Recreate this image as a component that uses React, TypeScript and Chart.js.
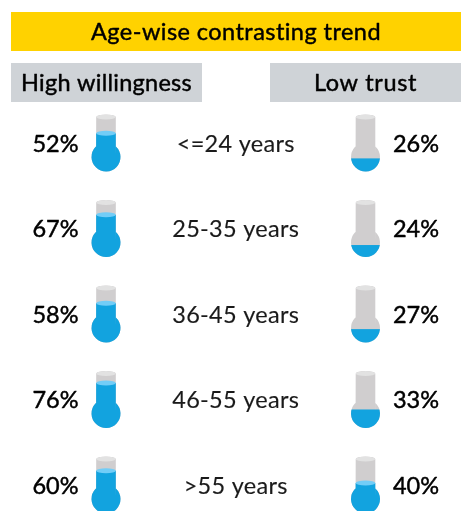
import React, { useEffect, useRef } from "react";
import { Chart, registerables } from "chart.js";

Chart.register(...registerables);

const TITLE = "Age-wise contrasting trend";
const LEFT_HEADER = "High willingness";
const RIGHT_HEADER = "Low trust";
const ageGroups = ["<=24 years", "25-35 years", "36-45 years", "46-55 years", ">55 years"];
const highWillingness = [52, 67, 58, 76, 60];
const lowTrust = [26, 24, 27, 33, 40];
// Height of the liquid in each thermometer, as % of the thermometer.
const highFill = [67, 74, 69, 79, 75];
const lowFill = [23, 21, 23.5, 32.5, 53.5];

const FONT = "Lato, sans-serif";
const BLUE = "#12A3DF";
const SURFACE = "#72CDF7";
const GLASS = "#D0CECF";
const GLASS_TOP = "#E2E2E2";
const HEIGHT = 57;
const TUBE_R = 9.8;
const BULB_R = 14.5;
const CAP = 2.5;

function shape(ctx: CanvasRenderingContext2D, cx: number, top: number) {
  const bottom = top + HEIGHT;
  ctx.beginPath();
  ctx.ellipse(cx, top + CAP, TUBE_R, CAP, 0, Math.PI, 0);
  ctx.lineTo(cx + TUBE_R, bottom - BULB_R);
  ctx.arc(cx, bottom - BULB_R, BULB_R, -Math.PI / 2 + 0.75, Math.PI * 1.5 - 0.75);
  ctx.lineTo(cx - TUBE_R, top + CAP);
  ctx.closePath();
}

function thermometer(ctx: CanvasRenderingContext2D, cx: number, cy: number, fill: number) {
  const top = cy - HEIGHT / 2;
  const level = top + HEIGHT * (1 - fill / 100);
  const inTube = level < top + HEIGHT - BULB_R * 1.75;
  ctx.save();
  shape(ctx, cx, top);
  ctx.fillStyle = GLASS;
  ctx.fill();
  ctx.clip();
  ctx.fillStyle = GLASS_TOP;
  ctx.beginPath();
  ctx.ellipse(cx, top + CAP, TUBE_R, CAP, 0, 0, Math.PI * 2);
  ctx.fill();
  ctx.fillStyle = BLUE;
  ctx.fillRect(cx - BULB_R - 1, level, BULB_R * 2 + 2, top + HEIGHT - level + 1);
  if (inTube) {
    ctx.fillStyle = SURFACE;
    ctx.beginPath();
    ctx.ellipse(cx, level, TUBE_R, CAP, 0, 0, Math.PI * 2);
    ctx.fill();
  }
  ctx.restore();
}

function heavyText(ctx: CanvasRenderingContext2D, text: string, x: number, y: number, weight: number, color: string) {
  ctx.fillStyle = color;
  ctx.strokeStyle = color;
  ctx.lineWidth = weight;
  ctx.lineJoin = "round";
  ctx.fillText(text, x, y);
  if (weight > 0) ctx.strokeText(text, x, y);
}

function band(ctx: CanvasRenderingContext2D, x0: number, y0: number, x1: number, y1: number, color: string, text: string, spacing: number) {
  ctx.fillStyle = color;
  ctx.fillRect(x0, y0, x1 - x0, y1 - y0);
  ctx.font = `400 23.5px ${FONT}`;
  (ctx as any).letterSpacing = `${spacing}px`;
  ctx.textAlign = "center";
  ctx.textBaseline = "middle";
  heavyText(ctx, text, (x0 + x1) / 2, (y0 + y1) / 2 + 1, 0.45, "#000");
}

const infographic = {
  id: "infographic",
  afterDatasetsDraw(chart: Chart) {
    const ctx = chart.ctx;
    ctx.save();
    band(ctx, 11, 12, 461, 51, "#FFD200", TITLE, 0.45);
    band(ctx, 11, 63, 202, 102, "#CFD3D7", LEFT_HEADER, 0.25);
    band(ctx, 270, 63, 461, 102, "#CFD3D7", RIGHT_HEADER, 0.6);

    const xs = chart.scales.x;
    const ys = chart.scales.y;
    ctx.textBaseline = "middle";
    ageGroups.forEach((g, i) => {
      ctx.font = `400 23.5px ${FONT}`;
      (ctx as any).letterSpacing = "0.3px";
      ctx.textAlign = "center";
      heavyText(ctx, g, xs.getPixelForValue(0), ys.getPixelForValue(i) + 1, 0.15, "#1a1a1a");
    });
    (ctx as any).letterSpacing = "0px";
    chart.data.datasets.forEach((ds: any, di: number) => {
      const fills = di === 0 ? highFill : lowFill;
      chart.getDatasetMeta(di).data.forEach((pt: any, i: number) => {
        thermometer(ctx, pt.x, pt.y, fills[i]);
        ctx.font = `400 23.5px ${FONT}`;
        ctx.textAlign = "center";
        const tx = di === 0 ? pt.x - 50.5 : pt.x + 50.5;
        heavyText(ctx, `${ds.values[i]}%`, tx, pt.y + 1, 0.45, "#000");
      });
    });
    ctx.restore();
  },
};

export default function App() {
  const ref = useRef<HTMLCanvasElement>(null);
  useEffect(() => {
    const chart = new Chart(ref.current!, {
      type: "scatter",
      data: {
        labels: ageGroups,
        datasets: [
          { label: LEFT_HEADER, values: highWillingness, data: ageGroups.map((g) => ({ x: -1, y: g })), pointRadius: 0 } as any,
          { label: RIGHT_HEADER, values: lowTrust, data: ageGroups.map((g) => ({ x: 1, y: g })), pointRadius: 0 } as any,
        ],
      },
      options: {
        responsive: false,
        animation: false,
        events: [],
        layout: { padding: { left: 106, right: 95.5, top: 143, bottom: 26 } },
        plugins: { legend: { display: false }, tooltip: { enabled: false }, title: { display: false } },
        scales: {
          x: { type: "linear", min: -1, max: 1, display: false },
          y: { type: "category", labels: ageGroups, offset: false, display: false },
        },
      },
      plugins: [infographic],
    });
    return () => chart.destroy();
  }, []);
  return (
    <canvas
      ref={ref}
      width={461}
      height={511}
      style={{ position: "fixed", left: 0, top: 0, display: "block", background: "#fff" }}
    />
  );
}
